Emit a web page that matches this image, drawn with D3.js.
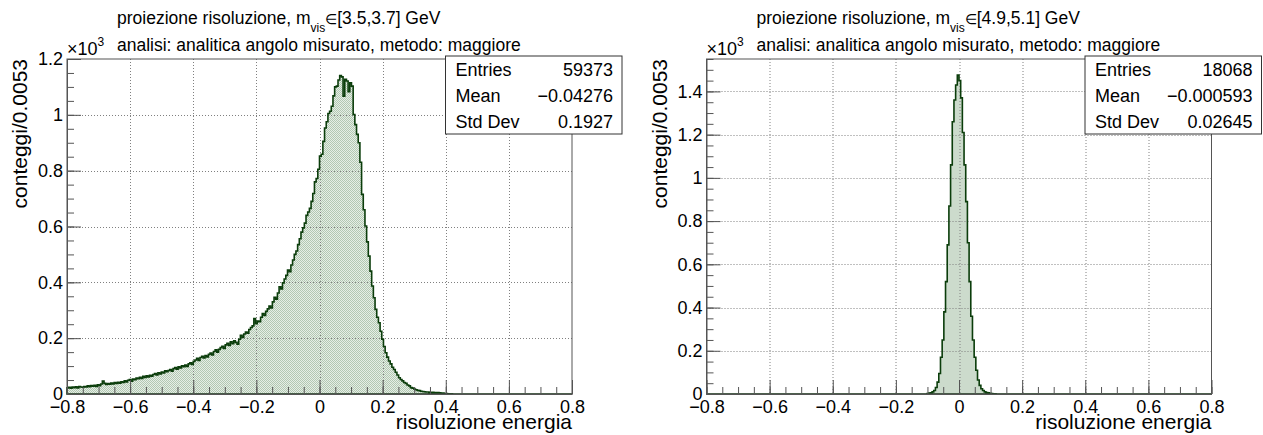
<!DOCTYPE html>
<html>
<head>
<meta charset="utf-8">
<script src="https://cdn.jsdelivr.net/npm/d3@7"></script>
<style>
  html, body { margin: 0; padding: 0; background: #fff; }
  svg { display: block; font-family: "Liberation Sans", Arial, Helvetica, sans-serif; }
</style>
</head>
<body>
<svg id="canvas" width="1263" height="435"></svg>
<script>
// Histogram binning (both panels share it)
const binLow = -0.8, binHigh = 0.8, nBins = 300;

// m_vis in [3.5,3.7] GeV: counts per bin starting at bin 0 (later bins are empty)
const leftCounts = [
  22,24,21,25,23,26,22,27,25,24,
  27,25,29,26,30,28,31,27,33,30,
  36,46,38,34,37,35,39,36,41,38,
  42,39,44,41,47,43,49,52,46,54,
  51,57,55,60,56,63,59,65,61,67,
  64,70,73,68,76,72,79,75,83,80,
  84,88,82,91,95,89,97,93,101,98,
  104,99,108,112,106,117,122,128,120,131,
  135,129,138,133,142,147,140,152,158,150,
  160,166,171,163,176,182,174,187,180,191,
  185,178,196,210,203,215,222,218,231,238,
  244,270,252,261,259,275,288,281,296,305,
  315,308,330,346,340,362,384,376,398,412,
  425,444,438,462,480,500,512,535,556,580,
  595,612,640,652,665,690,718,760,772,805,
  852,859,905,953,975,1005,1013,1031,1068,1100,
  1103,1125,1141,1136,1067,1127,1121,1083,1115,1103,
  1001,965,930,900,830,715,660,602,545,494,
  440,387,345,303,275,255,225,196,170,148,
  132,118,108,96,88,78,68,58,52,47,
  41,38,32,29,23,21,18,15,13,12,
  10,9,8,7,7,6,5,6,4,5,
  5,4,3,3,2,2,1,1,1,0
];

// m_vis in [4.9,5.1] GeV: counts per bin starting at bin rightFirstBin
const rightFirstBin = 131;
const rightCounts = [
  2,4,6,10,16,30,55,95,170,250,
  380,520,690,870,1060,1260,1360,1430,1476,
  1450,1370,1210,1060,890,700,520,360,250,170,
  110,65,40,24,16,10,7,5,3,2,1,1
];

// Axis ticks (y values in units of 10^3)
const xMajorTicks = [-0.8, -0.6, -0.4, -0.2, 0, 0.2, 0.4, 0.6, 0.8];
const leftYTicks = [0, 0.2, 0.4, 0.6, 0.8, 1, 1.2];
const rightYTicks = [0, 0.2, 0.4, 0.6, 0.8, 1, 1.2, 1.4];
const leftYMax = 1.2, rightYMax = 1.55;

// Titles and statistics boxes
const leftRange = "[3.5,3.7] GeV", rightRange = "[4.9,5.1] GeV";
const subtitle = "analisi: analitica angolo misurato, metodo: maggiore";
const statNames = ["Entries", "Mean", "Std Dev"];
const leftStats = ["59373", "\u22120.04276", "0.1927"];
const rightStats = ["18068", "\u22120.000593", "0.02645"];

const svg = d3.select("#canvas");
const defs = svg.append("defs");
const pat = defs.append("pattern").attr("id", "fillDots")
  .attr("width", 2).attr("height", 2).attr("patternUnits", "userSpaceOnUse");
pat.append("rect").attr("width", 2).attr("height", 2).attr("fill", "#e6eee6");
pat.append("rect").attr("width", 1).attr("height", 1).attr("fill", "#b2c8b2");
pat.append("rect").attr("x", 1).attr("y", 1).attr("width", 1).attr("height", 1).attr("fill", "#b2c8b2");

const frame = { left: 67, right: 572, top: 59, bottom: 394 };
const binWidth = (binHigh - binLow) / nBins;
const fmt = d => d3.format("~g")(d);

function drawPanel(ox, counts, firstBin, yMax, yTicks, range, stats) {
  const g = svg.append("g").attr("transform", `translate(${ox},0)`);
  const x = d3.scaleLinear([binLow, binHigh], [frame.left, frame.right]);
  const y = d3.scaleLinear([0, yMax], [frame.bottom, frame.top]);

  // step outline of the histogram
  const p = d3.path();
  p.moveTo(x(binLow), y(0));
  for (let i = 0; i < nBins; i++) {
    const k = i - firstBin;
    const c = (k >= 0 && k < counts.length) ? counts[k] : 0;
    p.lineTo(x(binLow + i * binWidth), y(c / 1000));
    p.lineTo(x(binLow + (i + 1) * binWidth), y(c / 1000));
  }
  p.lineTo(x(binHigh), y(0));
  p.closePath();

  g.append("path").attr("d", p.toString()).attr("fill", "url(#fillDots)").attr("stroke", "none");

  // dotted grid
  const grid = g.append("g").attr("stroke", "#808080").attr("stroke-width", 1)
    .attr("stroke-dasharray", "1,2");
  grid.selectAll("line.v").data(xMajorTicks.slice(1, -1)).join("line")
    .attr("x1", d => Math.round(x(d)) + 0.5).attr("x2", d => Math.round(x(d)) + 0.5)
    .attr("y1", frame.top).attr("y2", frame.bottom);
  grid.selectAll("line.h").data(yTicks.filter(t => t > 0 && t < yMax - 1e-9)).join("line")
    .attr("x1", frame.left).attr("x2", frame.right)
    .attr("y1", d => Math.round(y(d)) + 0.5).attr("y2", d => Math.round(y(d)) + 0.5);

  g.append("path").attr("d", p.toString()).attr("fill", "none")
    .attr("stroke", "#0b3d0b").attr("stroke-width", 1.6).attr("stroke-linejoin", "miter");

  // frame
  g.append("rect").attr("x", frame.left).attr("y", frame.top)
    .attr("width", frame.right - frame.left).attr("height", frame.bottom - frame.top)
    .attr("fill", "none").attr("stroke", "#555").attr("stroke-width", 1);

  // x axis: major and minor ticks pointing inward
  const xMinor = d3.range(-16, 17).map(v => v * 0.05);
  g.append("g").attr("transform", `translate(0,${frame.bottom})`)
    .call(d3.axisBottom(x).tickValues(xMinor).tickSize(-7).tickSizeOuter(0).tickFormat(""))
    .call(a => a.select(".domain").remove());
  const xa = g.append("g").attr("transform", `translate(0,${frame.bottom})`)
    .call(d3.axisBottom(x).tickValues(xMajorTicks).tickSize(-14).tickSizeOuter(0)
      .tickPadding(6).tickFormat(fmt));
  xa.select(".domain").attr("stroke", "#555");
  xa.selectAll("text").attr("font-size", 18).attr("fill", "#000")
    .attr("font-family", "Liberation Sans, Arial, sans-serif");

  // y axis
  const yMinor = d3.range(0, Math.floor(yMax / 0.05 + 1e-6) + 1).map(v => v * 0.05);
  g.append("g").attr("transform", `translate(${frame.left},0)`)
    .call(d3.axisLeft(y).tickValues(yMinor).tickSize(-7).tickSizeOuter(0).tickFormat(""))
    .call(a => a.select(".domain").remove());
  const ya = g.append("g").attr("transform", `translate(${frame.left},0)`)
    .call(d3.axisLeft(y).tickValues(yTicks).tickSize(-14).tickSizeOuter(0)
      .tickPadding(4).tickFormat(fmt));
  ya.select(".domain").attr("stroke", "#555");
  ya.selectAll("text").attr("font-size", 18).attr("fill", "#000")
    .attr("font-family", "Liberation Sans, Arial, sans-serif");
  g.selectAll(".tick line").attr("stroke", "#555");

  // exponent label
  const ex = g.append("text").attr("x", frame.left).attr("y", 55).attr("font-size", 18);
  ex.append("tspan").text("\u00d710");
  ex.append("tspan").attr("font-size", 12).attr("dy", -9).text("3");

  // axis titles
  g.append("text").attr("x", frame.right).attr("y", 429).attr("text-anchor", "end")
    .attr("font-size", 21).text("risoluzione energia");
  g.append("text").attr("transform", `translate(27,${frame.top}) rotate(-90)`)
    .attr("text-anchor", "end").attr("font-size", 21).text("conteggi/0.0053");

  // title lines
  const t1 = g.append("text").attr("x", 117).attr("y", 24).attr("font-size", 17.5);
  t1.append("tspan").text("proiezione risoluzione, m");
  t1.append("tspan").attr("font-size", 12).attr("dy", 8).text("vis");
  t1.append("tspan").attr("font-size", 14).attr("dy", -8).text("\u2208");
  t1.append("tspan").text(range);
  g.append("text").attr("x", 117).attr("y", 51).attr("font-size", 17.5).text(subtitle);

  // statistics box
  const bx = 445.5, bw = 176.5, by = 56, rowH = 26;
  const box = g.append("g");
  box.append("rect").attr("x", bx).attr("y", by).attr("width", bw).attr("height", rowH * 3)
    .attr("fill", "#fff").attr("stroke", "#333").attr("stroke-width", 1);
  statNames.forEach((n, i) => {
    box.append("text").attr("x", bx + 10).attr("y", by + rowH * i + 19.5)
      .attr("font-size", 18).text(n);
    box.append("text").attr("x", bx + bw - 9).attr("y", by + rowH * i + 19.5)
      .attr("font-size", 18).attr("text-anchor", "end").text(stats[i]);
  });
}

drawPanel(0, leftCounts, 0, leftYMax, leftYTicks, leftRange, leftStats);
drawPanel(639.5, rightCounts, rightFirstBin, rightYMax, rightYTicks, rightRange, rightStats);
</script>
</body>
</html>
